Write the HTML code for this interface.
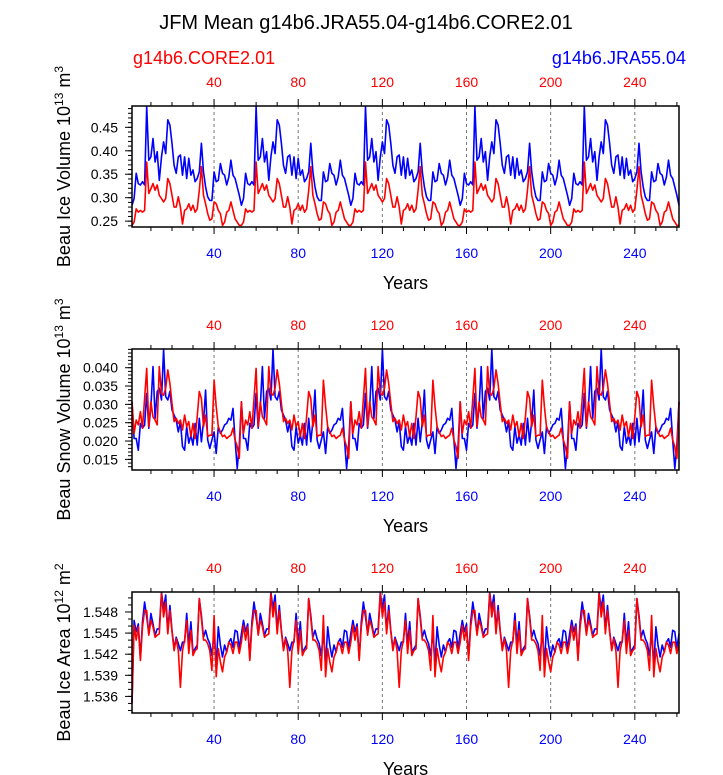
<!DOCTYPE html>
<html><head><meta charset="utf-8"><style>
html,body{margin:0;padding:0;background:#fff;}
svg{display:block;font-family:"Liberation Sans",sans-serif;}
</style></head><body>
<svg id="chart" width="723" height="775" viewBox="0 0 723 775" xmlns="http://www.w3.org/2000/svg">
<text x="366" y="29" font-size="20" text-anchor="middle" fill="#000">JFM Mean g14b6.JRA55.04-g14b6.CORE2.01</text>
<text x="133" y="64" font-size="18" fill="#ff0000">g14b6.CORE2.01</text>
<text x="686" y="64" font-size="18" text-anchor="end" fill="#0000ff">g14b6.JRA55.04</text>
</svg>
<script>
// Years axis
const yearMin = 1, yearMax = 261, cycleLen = 52;
const xTickLabels = [40, 80, 120, 160, 200, 240];
// Panel 1: ice volume (one forcing cycle, repeated)
const iceVolCore = [.241,.248,.276,.269,.273,.269,.273,.376,.309,.319,.330,.316,.327,.305,.298,.291,.298,.341,.330,.305,.280,.280,.302,.280,.244,.273,.276,.287,.273,.284,.269,.276,.316,.366,.305,.287,.266,.252,.255,.291,.287,.273,.266,.241,.248,.269,.273,.291,.273,.255,.248,.241];
const iceVolJra = [.284,.298,.352,.330,.327,.334,.327,.494,.380,.387,.426,.376,.398,.337,.387,.419,.394,.466,.455,.416,.369,.352,.387,.391,.348,.387,.341,.384,.348,.359,.334,.341,.355,.416,.355,.323,.302,.294,.294,.355,.334,.337,.373,.352,.348,.327,.344,.380,.348,.341,.323,.305];
const iceVolTicks = [0.25, 0.30, 0.35, 0.40, 0.45];
// Panel 2: snow volume
const snowVolCore = [.0307,.0221,.0257,.0244,.0280,.0235,.0316,.0398,.0239,.0307,.0266,.0257,.0244,.0403,.0330,.0325,.0344,.0394,.0357,.0303,.0253,.0262,.0248,.0257,.0230,.0271,.0239,.0253,.0212,.0248,.0207,.0266,.0335,.0316,.0239,.0271,.0212,.0216,.0216,.0366,.0294,.0239,.0225,.0212,.0216,.0207,.0212,.0216,.0235,.0203,.0185,.0153];
const snowVolJra = [.0307,.0207,.0207,.0175,.0248,.0235,.0244,.0330,.0235,.0294,.0403,.0262,.0335,.0344,.0312,.0453,.0321,.0312,.0335,.0285,.0271,.0257,.0225,.0253,.0185,.0175,.0239,.0194,.0216,.0189,.0248,.0189,.0262,.0198,.0253,.0339,.0203,.0180,.0203,.0225,.0166,.0239,.0221,.0230,.0244,.0248,.0262,.0257,.0289,.0203,.0125,.0189];
const snowVolTicks = [0.015, 0.020, 0.025, 0.030, 0.035, 0.040];
// Panel 3: ice area
const iceAreaCore = [1.5437,1.5461,1.5440,1.5459,1.5411,1.5459,1.5482,1.5482,1.5447,1.5468,1.5459,1.5444,1.5447,1.5449,1.5506,1.5473,1.5494,1.5449,1.5482,1.5452,1.5425,1.5442,1.5425,1.5373,1.5425,1.5440,1.5468,1.5421,1.5454,1.5418,1.5425,1.5428,1.5499,1.5471,1.5440,1.5440,1.5435,1.5425,1.5397,1.5475,1.5388,1.5428,1.5409,1.5395,1.5416,1.5423,1.5437,1.5433,1.5421,1.5437,1.5437,1.5421];
const iceAreaJra = [1.5449,1.5468,1.5452,1.5463,1.5414,1.5466,1.5494,1.5473,1.5449,1.5478,1.5463,1.5447,1.5456,1.5456,1.5508,1.5485,1.5504,1.5454,1.5489,1.5454,1.5428,1.5444,1.5435,1.5425,1.5437,1.5437,1.5478,1.5433,1.5466,1.5423,1.5428,1.5433,1.5499,1.5475,1.5444,1.5454,1.5442,1.5435,1.5418,1.5452,1.5404,1.5459,1.5433,1.5416,1.5433,1.5423,1.5437,1.5442,1.5430,1.5454,1.5452,1.5428];
const iceAreaFirst = [1.5350, 1.5350];
const iceAreaTicks = [1.536, 1.539, 1.542, 1.545, 1.548];

const svg = document.getElementById('chart');
const NS = 'http://www.w3.org/2000/svg';
const L = 132, R = 679;
function mk(tag, attrs, parent){const e=document.createElementNS(NS,tag);for(const k in attrs)e.setAttribute(k,attrs[k]);(parent||svg).appendChild(e);return e;}
function xs(yr){return L + (yr - yearMin) / (yearMax - yearMin) * (R - L);}
function expand(cycle){const out=[];for(let y=yearMin;y<=yearMax;y++){out.push(cycle[(y-yearMin)%cycleLen]);}return out;}

function panel(cfg){
  const g = mk('g', {});
  
  
  const T = cfg.top, B = cfg.bottom;
  const ys = v => B - (v - cfg.ymin) / (cfg.ymax - cfg.ymin) * (B - T);
  xTickLabels.forEach(t => {
    const l = mk('line', {x1:xs(t),x2:xs(t),y1:T,y2:B,stroke:'#777','stroke-width':1,'stroke-dasharray':'3,3'}, g);
    
    
  });
  [[cfg.jra,'#0000ff','jra55-line'],[cfg.core,'#ff0000','core2-line']].forEach(([arr,col,nm]) => {
    const pts = arr.map((v,i) => xs(yearMin+i).toFixed(1)+','+ys(Math.max(cfg.ymin,Math.min(cfg.ymax,v))).toFixed(1)).join(' ');
    const p = mk('polyline', {points:pts,fill:'none',stroke:col,'stroke-width':1.6,'stroke-linejoin':'round'}, g);
    
    
  });
  const fr = mk('rect', {x:L,y:T,width:R-L,height:B-T,fill:'none',stroke:'#000','stroke-width':1.5}, g);
  
  
  for (let yr = 10; yr <= 260; yr += 10) {
    const major = yr % 40 === 0, len = major ? 7 : 4;
    mk('line', {x1:xs(yr),x2:xs(yr),y1:T,y2:T-len,stroke:'#000','stroke-width':1}, g);
    mk('line', {x1:xs(yr),x2:xs(yr),y1:B,y2:B+len,stroke:'#000','stroke-width':1}, g);
  }
  xTickLabels.forEach(t => {
    const a = mk('text', {x:xs(t),y:T-19,'font-size':14,'text-anchor':'middle',fill:'#ff0000'}, g);
    a.textContent = t;
    
    
    const b = mk('text', {x:xs(t),y:B+31,'font-size':14,'text-anchor':'middle',fill:'#0000ff'}, g);
    b.textContent = t;
    
    
  });
  const xt = mk('text', {x:(L+R)/2,y:B+62,'font-size':18,'text-anchor':'middle',fill:'#000'}, g);
  xt.textContent = 'Years';
  
  
  const step = cfg.ticks[1] - cfg.ticks[0], minor = step / cfg.minorN;
  for (let v = cfg.ticks[0] - step; v <= cfg.ymax + 1e-9; v += minor) {
    if (v < cfg.ymin - 1e-9) continue;
    mk('line', {x1:L,x2:L-4,y1:ys(v),y2:ys(v),stroke:'#000','stroke-width':1}, g);
  }
  cfg.ticks.forEach(t => {
    mk('line', {x1:L,x2:L-7,y1:ys(t),y2:ys(t),stroke:'#000','stroke-width':1}, g);
    const a = mk('text', {x:L-14,y:ys(t)+5,'font-size':14,'text-anchor':'end',fill:'#000'}, g);
    a.textContent = t.toFixed(cfg.dec);
    
    
  });
  const yt = mk('text', {x:0,y:0,'font-size':18,'text-anchor':'middle',fill:'#000',transform:`translate(70,${(T+B)/2}) rotate(-90)`}, g);
  yt.innerHTML = cfg.ytitle;
  
  
}

const areaCore = expand(iceAreaCore); areaCore[0] = iceAreaFirst[0];
const areaJra = expand(iceAreaJra); areaJra[0] = iceAreaFirst[1];
panel({name:'ice-volume-panel',top:106,bottom:227,ymin:0.2375,ymax:0.4955,ticks:iceVolTicks,minorN:5,dec:2,core:expand(iceVolCore),jra:expand(iceVolJra),ytitle:'Beau Ice Volume 10<tspan dy="-7" font-size="12">13</tspan><tspan dy="7"> m</tspan><tspan dy="-7" font-size="12">3</tspan>'});
panel({name:'snow-volume-panel',top:349,bottom:470,ymin:0.0121,ymax:0.0451,ticks:snowVolTicks,minorN:5,dec:3,core:expand(snowVolCore),jra:expand(snowVolJra),ytitle:'Beau Snow Volume 10<tspan dy="-7" font-size="12">13</tspan><tspan dy="7"> m</tspan><tspan dy="-7" font-size="12">3</tspan>'});
panel({name:'ice-area-panel',top:592,bottom:713,ymin:1.53364,ymax:1.55084,ticks:iceAreaTicks,minorN:3,dec:3,core:areaCore,jra:areaJra,ytitle:'Beau Ice Area 10<tspan dy="-7" font-size="12">12</tspan><tspan dy="7"> m</tspan><tspan dy="-7" font-size="12">2</tspan>'});
</script>
</body></html>
